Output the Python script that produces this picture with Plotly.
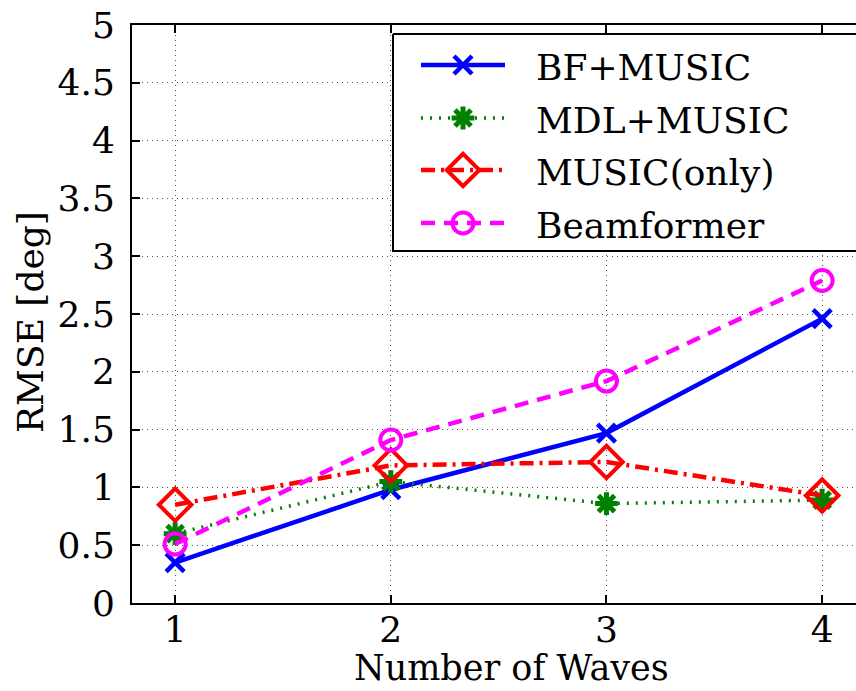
import plotly.graph_objects as go

# Data
waves = [1, 2, 3, 4]
bf_music = [0.35, 0.98, 1.47, 2.46]
mdl_music = [0.60, 1.05, 0.86, 0.89]
music_only = [0.85, 1.19, 1.22, 0.93]
beamformer = [0.51, 1.41, 1.92, 2.79]

series_names = ["BF+MUSIC", "MDL+MUSIC", "MUSIC(only)", "Beamformer"]
y_ticks = [0, 0.5, 1, 1.5, 2, 2.5, 3, 3.5, 4, 4.5, 5]
y_tick_text = ["0", "0.5", "1", "1.5", "2", "2.5", "3", "3.5", "4", "4.5", "5"]

FONT = "DejaVu Serif"
FS = 36

# plot area in pixels
PL, PR, PT, PB = 132, 856, 25, 603


def px_x(px):
    return (px - PL) / (PR - PL)


def px_y(py):
    return (PB - py) / (PB - PT)


styles = [
    dict(line=dict(color="#0000ff", width=4.5, dash="solid"),
         marker=dict(symbol="x-thin", size=18, line=dict(color="#0000ff", width=4.5))),
    dict(line=dict(color="#008000", width=3.5, dash="2px,7px"),
         marker=dict(symbol="asterisk", size=19, line=dict(color="#008000", width=5))),
    dict(line=dict(color="#ff0000", width=4.5, dash="14px,6px,3px,6px"),
         marker=dict(symbol="diamond-open", size=25, color="#ff0000",
                     line=dict(color="#ff0000", width=4))),
    dict(line=dict(color="#ff00ff", width=4.5, dash="14px,9px"),
         marker=dict(symbol="circle-open", size=21, color="#ff00ff",
                     line=dict(color="#ff00ff", width=4))),
]

fig = go.Figure()
for name, ys, st in zip(series_names, [bf_music, mdl_music, music_only, beamformer], styles):
    fig.add_trace(go.Scatter(x=waves, y=ys, name=name, mode="lines+markers",
                             line=st["line"], marker=st["marker"],
                             showlegend=False, cliponaxis=False))

# Boxed legend drawn on an overlay axis measured in pixels of the plot area
L_LEFT, L_TOP, L_BOTTOM = 393, 34, 251
rows = [65, 118, 170, 223]
fig.add_trace(go.Scatter(x=[L_LEFT, 900, 900, L_LEFT, L_LEFT],
                         y=[L_TOP, L_TOP, L_BOTTOM, L_BOTTOM, L_TOP],
                         mode="lines", fill="toself", fillcolor="white",
                         line=dict(color="black", width=2),
                         xaxis="x2", yaxis="y2", showlegend=False, hoverinfo="skip"))
for name, ry, st in zip(series_names, rows, styles):
    fig.add_trace(go.Scatter(x=[421, 505], y=[ry, ry], mode="lines", line=st["line"],
                             xaxis="x2", yaxis="y2", showlegend=False, hoverinfo="skip"))
    fig.add_trace(go.Scatter(x=[463], y=[ry], mode="markers", marker=st["marker"],
                             xaxis="x2", yaxis="y2", showlegend=False, hoverinfo="skip"))
    fig.add_annotation(x=534, y=ry + 2, xref="x2", yref="y2", text=name,
                       showarrow=False, xanchor="left", yanchor="middle",
                       font=dict(family=FONT, size=FS, color="black"))

# Axis titles
fig.add_annotation(x=px_x(511), y=px_y(668), xref="paper", yref="paper",
                   text="Number of Waves", showarrow=False,
                   xanchor="center", yanchor="middle",
                   font=dict(family=FONT, size=35, color="black"))
fig.add_annotation(x=px_x(30), y=px_y(322), xref="paper", yref="paper",
                   text="RMSE [deg]", showarrow=False, textangle=-90,
                   xanchor="center", yanchor="middle",
                   font=dict(family=FONT, size=FS, color="black"))

fig.update_layout(
    width=856, height=691,
    margin=dict(l=PL, r=0, t=PT, b=691 - PB),
    paper_bgcolor="white", plot_bgcolor="white",
    font=dict(family=FONT, size=FS, color="black"),
    xaxis=dict(range=[0.8, 4.157], tickvals=waves, ticktext=[str(w) for w in waves],
               tickfont=dict(family=FONT, size=FS, color="black"),
               showgrid=True, gridcolor="#555", griddash="1px,4px", gridwidth=1,
               zeroline=False, showline=True, linecolor="black", linewidth=2,
               mirror="ticks", ticks="inside", ticklen=8, tickwidth=1.5,
               tickcolor="black", ticklabelstandoff=-6),
    yaxis=dict(range=[0, 5], tickvals=y_ticks, ticktext=y_tick_text,
               tickfont=dict(family=FONT, size=FS, color="black"),
               showgrid=True, gridcolor="#555", griddash="1px,4px", gridwidth=1,
               zeroline=False, showline=True, linecolor="black", linewidth=2,
               mirror=False, ticks="inside", ticklen=8, tickwidth=1.5,
               tickcolor="black", ticklabelstandoff=8),
    xaxis2=dict(overlaying="x", range=[PL, PR], visible=False, fixedrange=True),
    yaxis2=dict(overlaying="y", range=[PB, PT], visible=False, fixedrange=True),
)

fig.write_html("out.html")
